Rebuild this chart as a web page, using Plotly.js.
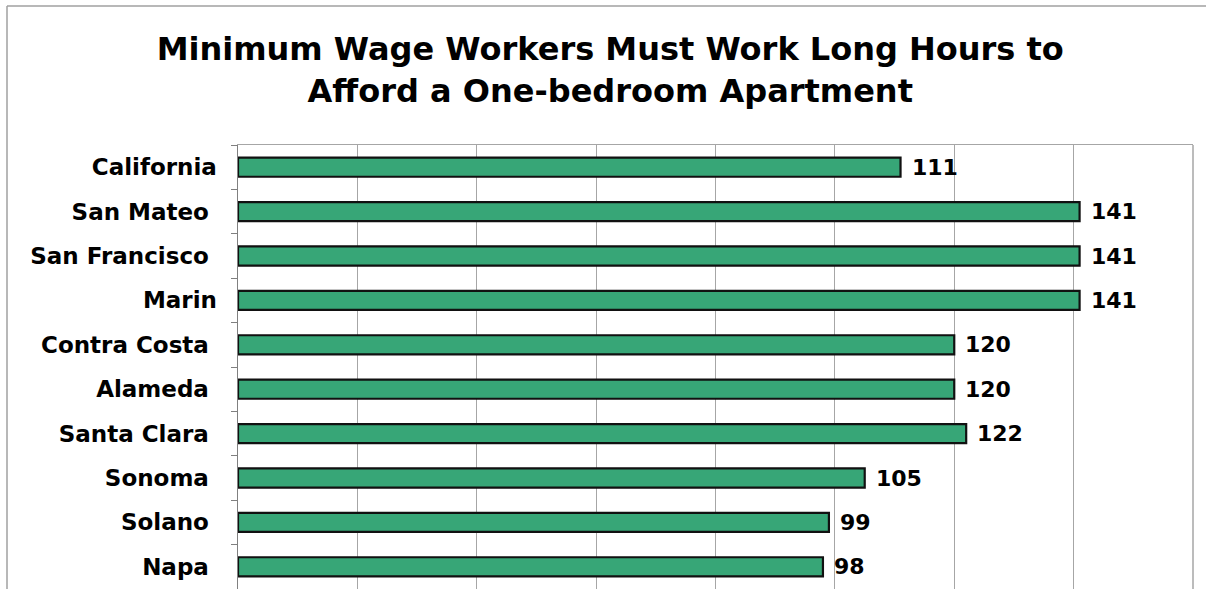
<!DOCTYPE html>
<html><head><meta charset="utf-8">
<script src="https://cdn.plot.ly/plotly-3.0.1.min.js"></script>
<style>html,body{margin:0;padding:0;background:#fff}#chart{width:1206px;height:589px}</style>
</head><body><div id="chart"></div>
<script>
const categories = ["California", "San Mateo\u00a0", "San Francisco\u00a0", "Marin", "Contra Costa\u00a0", "Alameda\u00a0", "Santa Clara\u00a0", "Sonoma\u00a0", "Solano\u00a0", "Napa\u00a0"];
const hours = [111, 141, 141, 141, 120, 120, 122, 105, 99, 98];
const titleText = "Minimum Wage Workers Must Work Long Hours to<br>Afford a One-bedroom Apartment";

const W = 1206, H = 589, L = 238, R = 13, T = 145, B = 0;
const pw = W - L - R, ph = H - T - B;
const font = "DejaVu Sans, Verdana, sans-serif";

const annotations = hours.map((v, i) => ({
  x: v, y: categories[i], xref: 'x', yref: 'y', text: String(v),
  showarrow: false, xanchor: 'left', yanchor: 'middle', xshift: 9,
  font: {family: font, size: 22, color: '#000', weight: 'bold'}
}));

const data = [{
  type: 'bar', orientation: 'h', x: hours, y: categories,
  marker: {color: '#37a677', line: {color: '#111', width: 2.2}},
  hoverinfo: 'none'
}];

const layout = {
  width: W, height: H,
  margin: {l: L, r: R, t: T, b: B, pad: 0},
  paper_bgcolor: '#fff', plot_bgcolor: '#fff',
  showlegend: false, bargap: 0.57,
  title: {text: titleText, font: {family: font, size: 32, color: '#000', weight: 'bold'},
    x: 0.506, xref: 'container', xanchor: 'center', y: 1 - 60 / H, yref: 'container', yanchor: 'middle'},
  xaxis: {range: [0, 160], dtick: 20, tick0: 0, showgrid: true, gridcolor: '#a6a6a6', gridwidth: 1,
    showticklabels: false, ticks: '', zeroline: false, showline: true, linecolor: '#a6a6a6', linewidth: 1.5, mirror: true, fixedrange: true},
  yaxis: {type: 'category', autorange: 'reversed', showgrid: false, zeroline: false,
    showline: true, linecolor: '#808080', linewidth: 1.5, mirror: false,
    ticks: 'outside', ticklen: 6, tickcolor: '#808080', tickwidth: 1, tickson: 'boundaries',
    ticklabelstandoff: 15,
    tickfont: {family: font, size: 23, color: '#000', weight: 'bold'}, fixedrange: true},
  annotations: annotations,
  shapes: [
    {type: 'line', xref: 'paper', yref: 'paper', x0: (7 - L) / pw, x1: (7 - L) / pw, y0: (H - 6 - B) / ph + 0.0, y1: -0.1, line: {color: '#a0a0a0', width: 1.5}},
    {type: 'line', xref: 'paper', yref: 'paper', x0: (7 - L) / pw, x1: (W + 5 - L) / pw, y0: (H - 6 - B) / ph, y1: (H - 6 - B) / ph, line: {color: '#a0a0a0', width: 1.5}},
    {type: 'line', xref: 'paper', yref: 'paper', x0: 1, x1: 1, y0: 0, y1: 1, line: {color: '#a6a6a6', width: 1.5}}
  ]
};

Plotly.newPlot('chart', data, layout, {displayModeBar: false, staticPlot: true});
</script></body></html>
